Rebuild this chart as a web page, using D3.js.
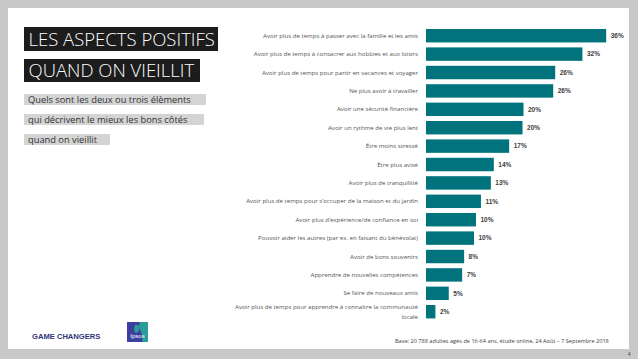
<!DOCTYPE html>
<html><head><meta charset="utf-8">
<script src="https://cdn.jsdelivr.net/npm/d3@7"></script>
<style>html,body{margin:0;padding:0;background:#c8c8c8;}svg{display:block;}</style>
</head><body>
<script>
const categories = [
  "Avoir plus de temps à passer avec la famille et les amis",
  "Avoir plus de temps à consacrer aux hobbies et aux loisirs",
  "Avoir plus de temps pour partir en vacances et voyager",
  "Ne plus avoir à travailler",
  "Avoir une sécurité financière",
  "Avoir un rythme de vie plus lent",
  "Être moins stressé",
  "Être plus avisé",
  "Avoir plus de tranquillité",
  "Avoir plus de temps pour s’occuper de la maison et du jardin",
  "Avoir plus d’expérience/de confiance en soi",
  "Pouvoir aider les autres (par ex. en faisant du bénévolat)",
  "Avoir de bons souvenirs",
  "Apprendre de nouvelles compétences",
  "Se faire de nouveaux amis",
  "Avoir plus de temps pour apprendre à connaître la communauté locale"
];
const values = [36.4, 31.6, 26.1, 25.7, 19.7, 19.5, 16.8, 13.7, 13.1, 11.1, 10.1, 9.7, 7.7, 7.3, 4.6, 1.9];
const titleLines = ["LES ASPECTS POSITIFS", "QUAND ON VIEILLIT"];
const subtitleLines = ["Quels sont les deux ou trois élèments", "qui décrivent le mieux les bons côtés", "quand on vieillit"];
const footnote = "Base: 20 788 adultes agés de 16-64 ans, étude online, 24 Août – 7 Septembre 2018";

const W = 638, H = 359;
const svg = d3.select("body").append("svg").attr("width", W).attr("height", H);
svg.append("rect").attr("width", W).attr("height", H).attr("fill", "#c8c8c8");
svg.append("rect").attr("x", 8).attr("y", 8).attr("width", 621).attr("height", 341).attr("fill", "#ffffff");

const x = d3.scaleLinear().domain([0, 40]).range([426, 624]);
const y = d3.scaleBand().domain(categories).range([24.03, 323.4]).paddingInner(0.27).paddingOuter(0.27);

const g = svg.append("g");
g.selectAll("rect.bar").data(values).join("rect").attr("class", "bar")
  .attr("x", x(0)).attr("y", (d, i) => y(categories[i]))
  .attr("width", d => x(d) - x(0)).attr("height", y.bandwidth())
  .attr("fill", "#00737d");

g.selectAll("text.val").data(values).join("text").attr("class", "val")
  .attr("x", d => x(d) + 4.5).attr("y", (d, i) => y(categories[i]) + y.bandwidth() / 2)
  .attr("dy", "0.35em").attr("font-family", "Liberation Sans, Arial, sans-serif")
  .attr("font-size", 6.5).attr("font-weight", "bold").attr("fill", "#404040")
  .text(d => Math.round(d) + "%");

// category labels (wrap long one)
const labelG = g.selectAll("text.cat").data(categories).join("text").attr("class", "cat")
  .attr("text-anchor", "end").attr("font-family", "Open Sans, sans-serif")
  .attr("font-size", 6.1).attr("fill", "#555555");
labelG.each(function(d) {
  const t = d3.select(this);
  const cy = y(d) + y.bandwidth() / 2;
  let lines = [d];
  if (d.length > 62) {
    const idx = d.lastIndexOf(" ");
    lines = [d.slice(0, idx), d.slice(idx + 1)];
  }
  const lh = 9.5;
  const start = cy - (lines.length - 1) * lh / 2;
  lines.forEach((ln, k) => {
    t.append("tspan").attr("x", 418).attr("y", start + k * lh).attr("dy", "0.35em").text(ln);
  });
});

// title boxes
const titleFont = "Open Sans, sans-serif";
const titleBoxes = [{y: 27, h: 24, w: 194}, {y: 59, h: 23, w: 176}];
titleLines.forEach((t, i) => {
  svg.append("rect").attr("x", 24).attr("y", titleBoxes[i].y).attr("width", titleBoxes[i].w)
    .attr("height", titleBoxes[i].h).attr("fill", "#1c1c1c");
  svg.append("text").attr("x", 28.5).attr("y", titleBoxes[i].y + titleBoxes[i].h / 2)
    .attr("dy", "0.36em").attr("font-family", titleFont).attr("font-weight", 300)
    .attr("font-size", 18.5).attr("fill", "#ffffff").text(t);
});

const subBoxes = [{y: 94, w: 182}, {y: 114, w: 180}, {y: 134, w: 86}];
subtitleLines.forEach((t, i) => {
  svg.append("rect").attr("x", 24).attr("y", subBoxes[i].y).attr("width", subBoxes[i].w)
    .attr("height", 11).attr("fill", "#d4d4d4");
  svg.append("text").attr("x", 28).attr("y", subBoxes[i].y + 5.5).attr("dy", "0.35em")
    .attr("font-family", "Open Sans, sans-serif").attr("font-size", 9.3).attr("fill", "#333333").text(t);
});

// footer
svg.append("text").attr("x", 32).attr("y", 336).attr("dy", "0.35em")
  .attr("font-family", "Liberation Sans, Arial, sans-serif").attr("font-weight", "bold")
  .attr("font-size", 7.6).attr("fill", "#2e3478").text("GAME CHANGERS");
const logo = svg.append("g").attr("transform", "translate(127,322)");
logo.append("rect").attr("width", 21).attr("height", 20).attr("fill", "#3b3f9e");
logo.append("path").attr("d", "M13,0 L21,0 L21,20 L15,20 Q16,12 13,8 Q11,4 13,0 Z").attr("fill", "#2a9c9a");
logo.append("path").attr("d", "M8,3 Q13,2 12,8 Q11,11 9,11 Q6,9 8,3 Z").attr("fill", "#2a9c9a");
logo.append("text").attr("x", 10.5).attr("y", 16).attr("text-anchor", "middle")
  .attr("font-family", "Liberation Sans, Arial, sans-serif").attr("font-size", 6).attr("fill", "#ffffff").text("Ipsos");

svg.append("text").attr("x", 395).attr("y", 341).attr("dy", "0.35em")
  .attr("font-family", "Open Sans, sans-serif").attr("font-size", 5.6).attr("fill", "#404040").text(footnote);
svg.append("text").attr("x", 628).attr("y", 354).attr("dy", "0.35em")
  .attr("font-family", "Liberation Sans, Arial, sans-serif").attr("font-size", 4.5).attr("fill", "#333").text("4");
</script>
</body></html>
